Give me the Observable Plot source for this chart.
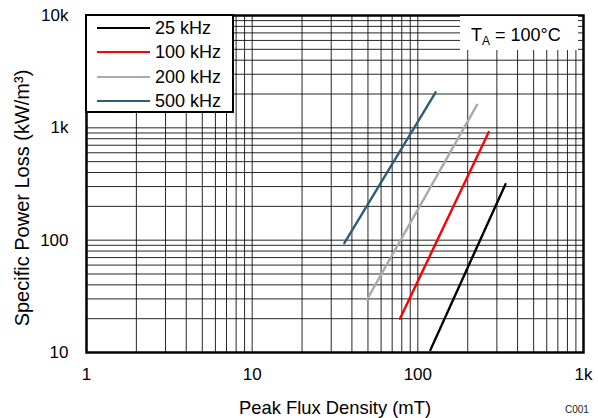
<!DOCTYPE html>
<html>
<head>
<meta charset="utf-8">
<script src="https://cdn.jsdelivr.net/npm/d3@7"></script>
<script src="https://cdn.jsdelivr.net/npm/@observablehq/plot@0.6"></script>
<style>
  html, body { margin: 0; padding: 0; background: #fff; }
  #wrap { position: relative; width: 598px; height: 418px; font-family: "Liberation Sans", Arial, sans-serif; }
  #legend { position: absolute; left: 85px; top: 14px; width: 145px; height: 95px; background: #fff; border: 2px solid #000; }
  .row { position: absolute; left: 0; height: 20px; width: 140px; }
  .sw { position: absolute; left: 10px; top: 9px; width: 53px; height: 0; border-top: 2.5px solid #000; }
  .lab { position: absolute; left: 68px; top: 0; font-size: 18px; white-space: nowrap; line-height: 20px; }
  #ta { position: absolute; left: 460px; top: 16px; width: 118px; height: 34px; background: #fff; font-size: 18px; }
  #ta span.t { position: absolute; left: 11px; top: 10px; line-height: 18px; white-space: nowrap; }
  #c001 { position: absolute; left: 565px; top: 404px; font-size: 10px; color: #222; }
</style>
</head>
<body>
<div id="wrap"></div>
<script>
// Data
const series = ["25 kHz", "100 kHz", "200 kHz", "500 kHz"];
const colors = ["#000000", "#FF0000", "#AAAAAA", "#2E5E74"];
const bStart = [119, 78, 49.4, 36];
const bEnd = [338, 268, 228, 128];
const pStart = [10.5, 20, 29.7, 94];
const pEnd = [315, 918, 1607, 2069];
const xTicks = [1, 10, 100, 1000];
const xTickLabels = ["1", "10", "100", "1k"];
const yTicks = [10, 100, 1000, 10000];
const yTickLabels = ["10", "100", "1k", "10k"];
const xTitle = "Peak Flux Density (mT)";
const yTitle = "Specific Power Loss (kW/m³)";

const lines = [];
series.forEach((s, i) => {
  lines.push({series: s, b: bStart[i], p: pStart[i]});
  lines.push({series: s, b: bEnd[i], p: pEnd[i]});
});

const decadeGrid = (lo, hi) => {
  const out = [];
  for (let d = lo; d < hi; d *= 10) for (let k = 1; k <= 9; k++) out.push(d * k);
  out.push(hi);
  return out;
};
const xGrid = decadeGrid(1, 1000);
const yGrid = decadeGrid(10, 10000);

const chart = Plot.plot({
  width: 598,
  height: 418,
  marginLeft: 86,
  marginRight: 15,
  marginTop: 15,
  marginBottom: 66,
  style: {fontFamily: "Liberation Sans, Arial, sans-serif", fontSize: "17px", color: "#000", background: "#fff"},
  x: {type: "log", domain: [1, 1000]},
  y: {type: "log", domain: [10, 10000]},
  color: {domain: series, range: colors},
  marks: [
    Plot.ruleX(xGrid, {stroke: "#000", strokeWidth: 1, strokeOpacity: 0.85}),
    Plot.ruleY(yGrid, {stroke: "#000", strokeWidth: 1, strokeOpacity: 0.85}),
    Plot.line(lines, {x: "b", y: "p", z: "series", stroke: "series", strokeWidth: 2.4}),
    Plot.frame({stroke: "#000", strokeWidth: 2.5}),
    Plot.axisX({ticks: xTicks, tickSize: 0, tickPadding: 15, tickFormat: (d) => xTickLabels[xTicks.indexOf(d)],
      label: null, fontSize: 17}),
    Plot.axisY({ticks: yTicks, tickSize: 0, tickPadding: 18, tickFormat: (d) => yTickLabels[yTicks.indexOf(d)],
      label: null, fontSize: 17}),
    Plot.text([xTitle], {text: d => d, frameAnchor: "bottom", textAnchor: "middle", lineAnchor: "middle", dy: 56, fontSize: 18.4}),
    Plot.text([yTitle], {text: d => d, frameAnchor: "left", textAnchor: "middle", lineAnchor: "middle", rotate: -90, dx: -64, dy: 14, fontSize: 20})
  ]
});

const wrap = document.getElementById("wrap");
wrap.appendChild(chart);

const leg = document.createElement("div");
leg.id = "legend";
const rowCenters = [28.3, 52.3, 76.5, 100.6];
series.forEach((s, i) => {
  const row = document.createElement("div");
  row.className = "row";
  row.style.top = (rowCenters[i] - 16 - 10) + "px";
  row.innerHTML = `<div class="sw" style="border-top-color:${colors[i]}"></div><div class="lab">${s}</div>`;
  leg.appendChild(row);
});
wrap.appendChild(leg);

const ta = document.createElement("div");
ta.id = "ta";
ta.innerHTML = '<span class="t">T<sub style="font-size:12px;vertical-align:-4px">A</sub> = 100°C</span>';
wrap.appendChild(ta);

const c = document.createElement("div");
c.id = "c001";
c.textContent = "C001";
wrap.appendChild(c);
</script>
</body>
</html>
